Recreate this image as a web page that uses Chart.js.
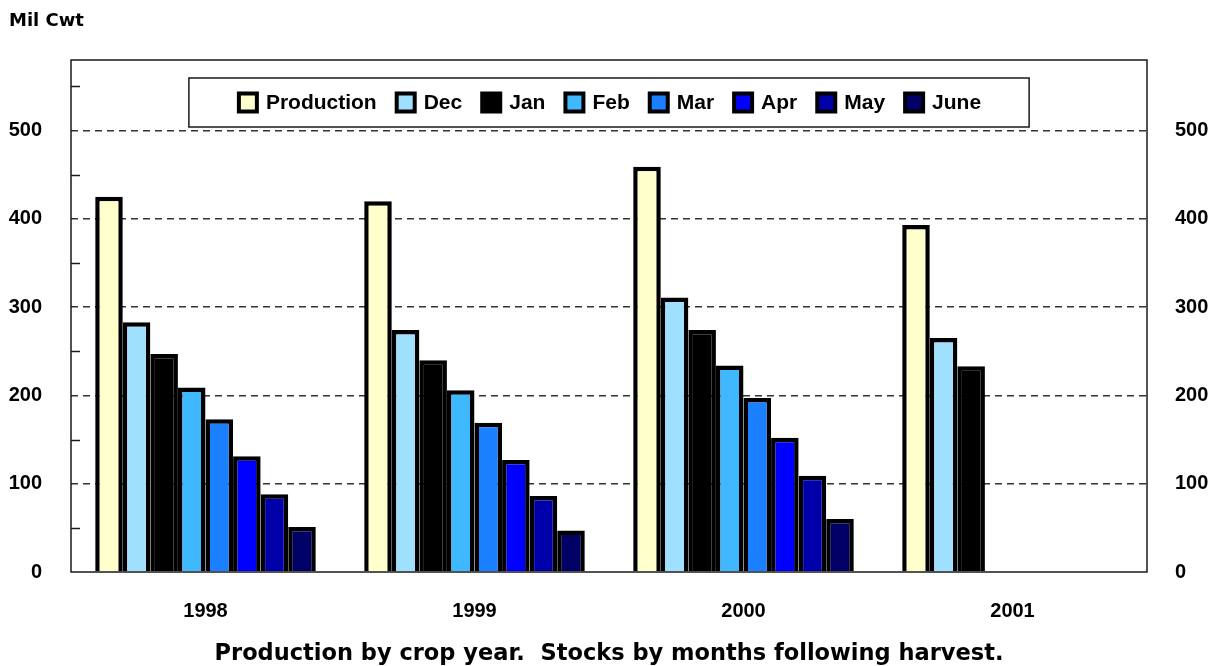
<!DOCTYPE html>
<html><head><meta charset="utf-8">
<script src="https://cdn.jsdelivr.net/npm/chart.js@4.4.1/dist/chart.umd.min.js"></script>
<style>html,body{margin:0;padding:0;background:#fff}#wrap{width:1215px;height:666px;position:relative}</style>
</head><body><div id="wrap"><canvas id="c"></canvas></div>
<script>
// ---- data ----
const categories = ['1998', '1999', '2000', '2001'];
const seriesNames = ['Production', 'Dec', 'Jan', 'Feb', 'Mar', 'Apr', 'May', 'June'];
const production = [425, 420, 459, 393];
const dec = [283, 274, 311, 265];
const jan = [247, 240, 274, 233];
const feb = [209, 206, 234, null];
const mar = [173, 169, 197, null];
const apr = [131, 127, 152, null];
const may = [88, 86, 109, null];
const june = [51, 47, 60, null];
const yTickLabels = [0, 100, 200, 300, 400, 500];
const unitLabel = 'Mil Cwt';
const caption = 'Production by crop year.  Stocks by months following harvest.';

// ---- styles ----
const seriesValues = [production, dec, jan, feb, mar, apr, may, june];
const colors = ['#FFFFCC', '#A0E0FF', '#000000', '#40B8FF', '#1A80FF', '#0000FF', '#0000AA', '#000066'];
const tickFont = {family: '"Liberation Sans", Arial, sans-serif', size: 20, weight: 'bold'};

const datasets = seriesNames.map((name, i) => ({
  label: name,
  data: seriesValues[i],
  backgroundColor: colors[i],
  borderColor: '#000',
  borderWidth: 4.5,
  borderSkipped: 'start',
  barPercentage: 1.0,
  categoryPercentage: 0.82,
  yAxisID: 'y'
}));

const decor = {
  id: 'decor',
  afterDatasetsDraw(chart) {
    const {ctx, chartArea: a, scales: {y}} = chart;
    ctx.save();
    ctx.setLineDash([]);
    // frame
    ctx.strokeStyle = '#1a1a1a';
    ctx.lineWidth = 1.5;
    ctx.strokeRect(a.left, a.top, a.right - a.left, a.bottom - a.top);
    // minor inner ticks
    y.ticks.forEach(t => {
      if (t.value % 100 !== 0) {
        const py = Math.round(y.getPixelForValue(t.value)) + 0.5;
        ctx.beginPath();
        ctx.moveTo(a.left, py);
        ctx.lineTo(a.left + 9, py);
        ctx.stroke();
      }
    });
    // legend box
    ctx.font = 'bold 21px "Liberation Sans", Arial, sans-serif';
    const sw = 20, gapText = 9, gapItem = 18, padX = 48;
    const ds = chart.data.datasets;
    const widths = ds.map(d => ctx.measureText(d.label).width);
    let content = 0;
    widths.forEach((w, i) => { content += sw + gapText + w + (i < ds.length - 1 ? gapItem : 0); });
    const boxW = content + padX * 2;
    const cx = (a.left + a.right) / 2;
    const boxL = cx - boxW / 2;
    const boxT = a.top + 18, boxH = 49;
    ctx.fillStyle = '#fff';
    ctx.fillRect(boxL, boxT, boxW, boxH);
    ctx.strokeStyle = '#1a1a1a';
    ctx.lineWidth = 1.5;
    ctx.strokeRect(boxL, boxT, boxW, boxH);
    let x = boxL + padX;
    const cy = boxT + boxH / 2;
    ds.forEach((d, i) => {
      ctx.fillStyle = '#000';
      ctx.fillRect(x, cy - 11, sw + 2, 22);
      ctx.fillStyle = d.backgroundColor;
      ctx.fillRect(x + 4, cy - 7, sw - 6, 14);
      ctx.fillStyle = '#000';
      ctx.textBaseline = 'middle';
      ctx.textAlign = 'left';
      ctx.fillText(d.label, x + sw + gapText, cy + 1);
      x += sw + gapText + widths[i] + gapItem;
    });
    ctx.restore();
  },
  afterDraw(chart) {
    const {ctx, chartArea: a} = chart;
    ctx.save();
    ctx.fillStyle = '#000';
    ctx.textBaseline = 'alphabetic';
    ctx.textAlign = 'left';
    ctx.font = 'bold 18px "DejaVu Sans", Verdana, sans-serif';
    ctx.fillText(unitLabel, 9, 26);
    ctx.textAlign = 'center';
    ctx.font = 'bold 22.5px "DejaVu Sans", Verdana, sans-serif';
    ctx.fillText(caption, (a.left + a.right) / 2, 660);
    ctx.restore();
  }
};

const yTickCb = v => yTickLabels.includes(v) ? String(v) : '';

new Chart(document.getElementById('c'), {
  type: 'bar',
  data: {labels: categories, datasets},
  plugins: [decor],
  options: {
    responsive: true,
    maintainAspectRatio: false,
    animation: false,
    layout: {padding: {top: 60, left: 0, right: 0, bottom: 0}},
    plugins: {legend: {display: false}, tooltip: {enabled: false}, title: {display: false}},
    scales: {
      x: {
        type: 'category',
        offset: true,
        grid: {display: false, drawTicks: false},
        border: {display: false},
        ticks: {font: tickFont, color: '#000', padding: 27, maxRotation: 0},
        afterFit(s) { s.height = 94; }
      },
      y: {
        type: 'linear',
        position: 'left',
        min: 0, max: 580,
        grid: {
          drawTicks: false,
          lineWidth: 1.5,
          color: c => (c.tick && c.tick.value % 100 === 0 && c.tick.value > 0) ? '#333' : 'rgba(0,0,0,0)'
        },
        border: {display: false, dash: [7, 5]},
        ticks: {stepSize: 50, includeBounds: false, callback: yTickCb, font: tickFont, color: '#000', padding: 29, autoSkip: false},
        afterFit(s) { s.width = 71; }
      },
      y2: {
        type: 'linear',
        position: 'right',
        min: 0, max: 580,
        grid: {display: false, drawTicks: false},
        border: {display: false},
        ticks: {stepSize: 50, includeBounds: false, callback: yTickCb, font: tickFont, color: '#000', padding: 28, autoSkip: false},
        afterFit(s) { s.width = 68; }
      }
    }
  }
});
</script>
</body></html>
